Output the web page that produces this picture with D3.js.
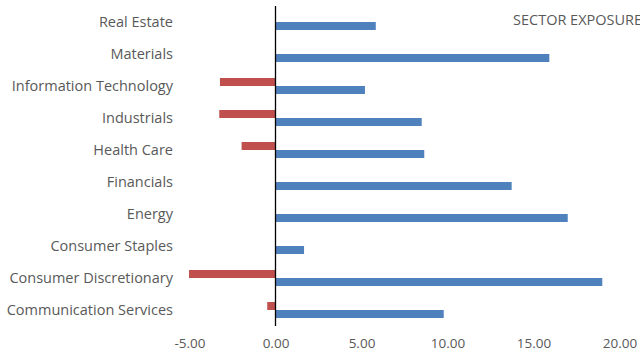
<!DOCTYPE html>
<html>
<head>
<meta charset="utf-8">
<script src="https://cdn.jsdelivr.net/npm/d3@7"></script>
<style>
  body { margin: 0; background: #fff; }
  text { font-family: "Open Sans", "Liberation Sans", sans-serif; fill: #595959; }
</style>
</head>
<body>
<script>
var width = 640,
    height = 354;

var sectors = ["Real Estate", "Materials", "Information Technology", "Industrials", "Health Care",
               "Financials", "Energy", "Consumer Staples", "Consumer Discretionary", "Communication Services"];
var longValues = [5.83, 15.92, 5.20, 8.50, 8.65, 13.73, 16.99, 1.66, 19.00, 9.78];
var shortValues = [0, 0, -3.23, -3.27, -1.97, 0, 0, 0, -5.03, -0.48];
var xTicks = [-5, 0, 5, 10, 15, 20];

var plotLeft = 189.5, plotRight = 619.5, plotTop = 6, plotBottom = 326;

var svg = d3.select("body").append("svg")
    .attr("width", width)
    .attr("height", height);

var x = d3.scaleLinear().domain([-5, 20]).range([plotLeft, plotRight]);
var y = d3.scaleBand().domain(sectors).range([plotTop, plotBottom]).paddingInner(0.5).paddingOuter(0.25);
var sub = d3.scaleBand().domain(["short", "long"]).range([0, y.bandwidth()]);

var rows = sectors.map(function(s, i) {
  return { name: s, short: shortValues[i], long: longValues[i] };
});

// short (red) bars
svg.selectAll("rect.short")
    .data(rows.filter(function(d) { return d.short !== 0; }))
  .enter().append("rect")
    .attr("class", "short")
    .attr("x", function(d) { return x(Math.min(0, d.short)); })
    .attr("y", function(d) { return y(d.name) + sub("short"); })
    .attr("width", function(d) { return Math.abs(x(d.short) - x(0)); })
    .attr("height", sub.bandwidth())
    .attr("fill", "#C0504D");

// long (blue) bars
svg.selectAll("rect.long")
    .data(rows)
  .enter().append("rect")
    .attr("class", "long")
    .attr("x", function(d) { return x(Math.min(0, d.long)); })
    .attr("y", function(d) { return y(d.name) + sub("long"); })
    .attr("width", function(d) { return Math.abs(x(d.long) - x(0)); })
    .attr("height", sub.bandwidth())
    .attr("fill", "#4F81BD");

// zero line
svg.append("line")
    .attr("x1", x(0)).attr("x2", x(0))
    .attr("y1", plotTop).attr("y2", plotBottom)
    .attr("stroke", "#000")
    .attr("stroke-width", 1.3);

// x axis labels (plain hyphen for negatives)
var fmt = function(d) { return d.toFixed(2); };
var xAxis = d3.axisBottom(x).tickValues(xTicks).tickFormat(fmt).tickSize(0).tickPadding(0);
var gx = svg.append("g")
    .attr("transform", "translate(0," + 338 + ")")
    .call(xAxis);
gx.select(".domain").remove();
gx.selectAll("text").style("font-size", "13.5px").attr("fill", "#595959");

// category labels
var yAxis = d3.axisLeft(y).tickSize(0).tickPadding(0);
var gy = svg.append("g")
    .attr("transform", "translate(173,0)")
    .call(yAxis);
gy.select(".domain").remove();
gy.selectAll("text").style("font-size", "14.5px").attr("fill", "#595959");

svg.append("text")
    .attr("x", 513)
    .attr("y", 25)
    .style("font-size", "14.5px")
    .text("SECTOR EXPOSURE");
</script>
</body>
</html>
